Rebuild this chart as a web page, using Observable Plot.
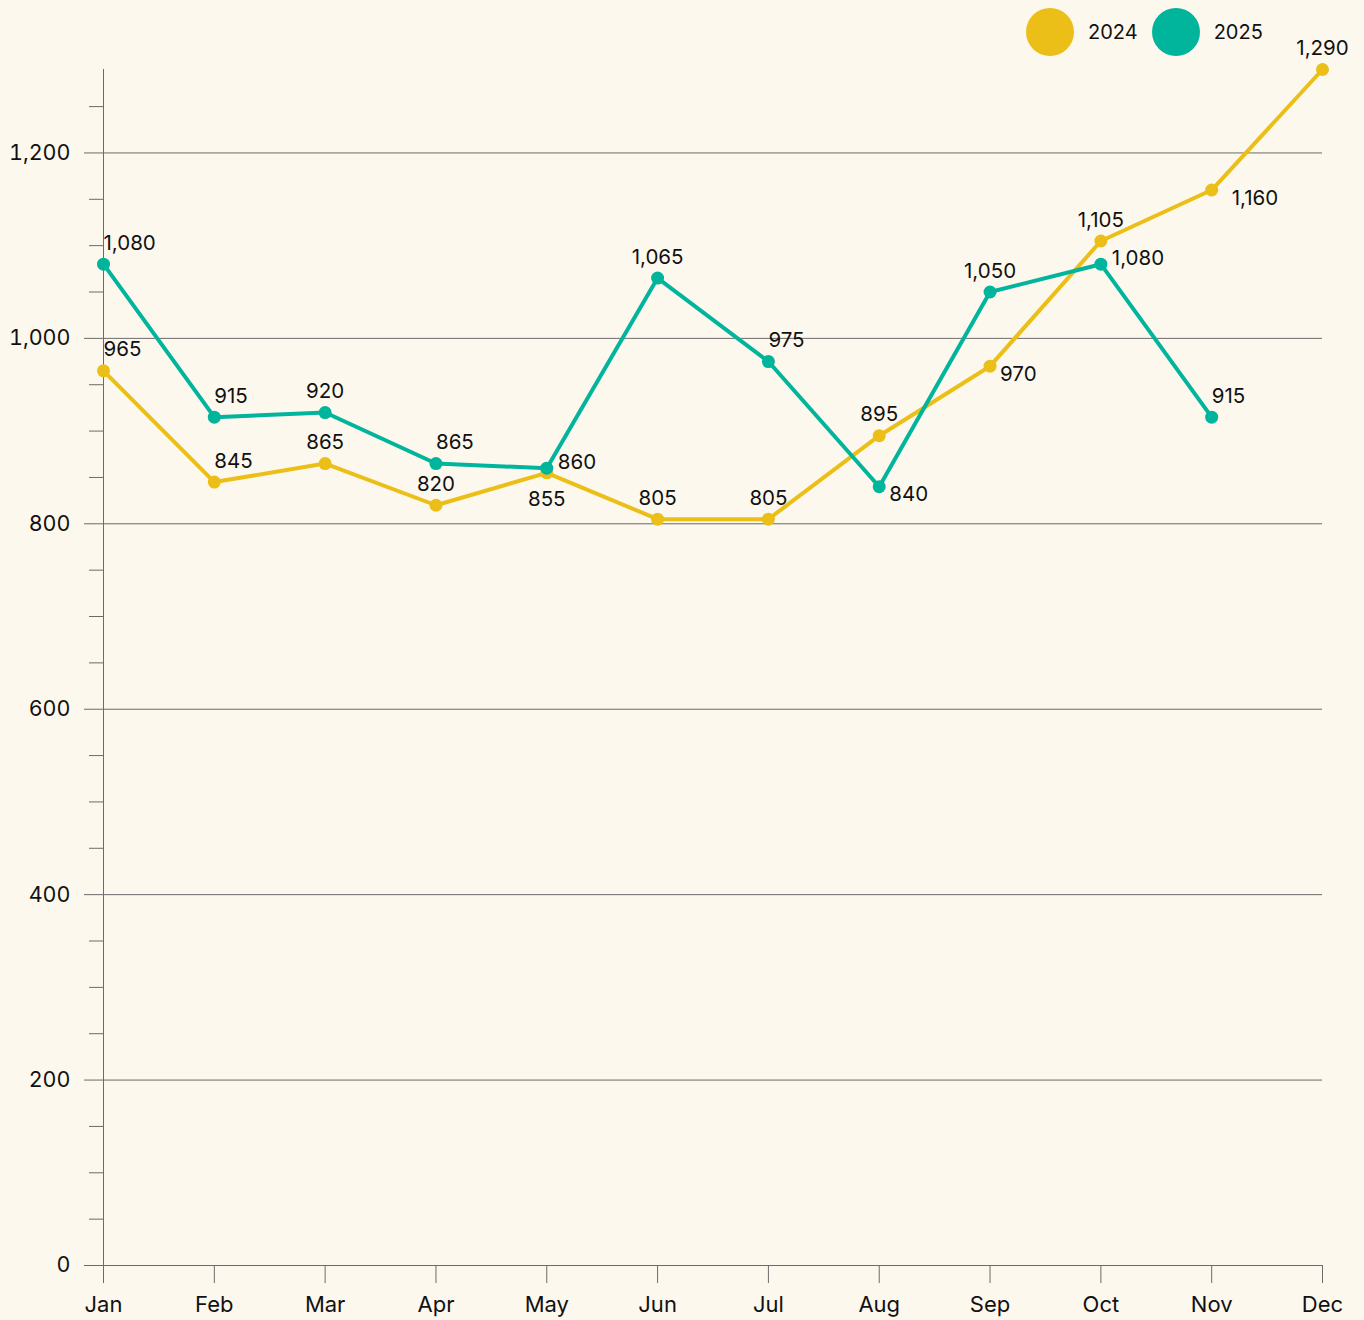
<!DOCTYPE html>
<html>
<head>
<meta charset="utf-8">
<script src="https://cdn.jsdelivr.net/npm/d3@7"></script>
<script src="https://cdn.jsdelivr.net/npm/@observablehq/plot@0.6"></script>
<style>
  html, body { margin: 0; padding: 0; background: #fdf8ed; }
  #wrap { position: relative; width: 1364px; height: 1320px; font-family: Inter, "Noto Sans", sans-serif; }
  #legend { position: absolute; top: 8px; left: 1026px; display: flex; align-items: center; gap: 0; font-size: 20px; color: #111; }
  .item { display: flex; align-items: center; margin-right: 14px; }
  .sw { width: 48px; height: 48px; border-radius: 50%; margin-right: 14px; }
  #chart { position: absolute; top: 0; left: 0; }
</style>
</head>
<body>
<div id="wrap">
  <div id="chart"></div>
  <div id="legend"></div>
</div>
<script>
const months = ["Jan","Feb","Mar","Apr","May","Jun","Jul","Aug","Sep","Oct","Nov","Dec"];
const seriesNames = ["2024", "2025"];
const values2024 = [965, 845, 865, 820, 855, 805, 805, 895, 970, 1105, 1160, 1290];
const values2025 = [1080, 915, 920, 865, 860, 1065, 975, 840, 1050, 1080, 915];
const labelPos2024 = ["ne","ne","n","n","s","n","n","n","se","n","sef","n"];
const labelPos2025 = ["ne","ne","n","ne","e","n","ne","se","n","e","ne"];
const colors = ["#ebbf17", "#00b59c"];
const majorTicks = [0, 200, 400, 600, 800, 1000, 1200];
const minorTicks = d3.range(0, 1300, 50).filter(v => v % 200 !== 0);
const fmt = d3.format(",");

const rows = [];
values2024.forEach((v, i) => rows.push({month: months[i], value: v, series: seriesNames[0], pos: labelPos2024[i]}));
values2025.forEach((v, i) => rows.push({month: months[i], value: v, series: seriesNames[1], pos: labelPos2025[i]}));

const labelStyles = {
  n:   {textAnchor: "middle", dx: 0,  dy: -21},
  ne:  {textAnchor: "start",  dx: 0,  dy: -21},
  s:   {textAnchor: "middle", dx: 0,  dy: 27},
  se:  {textAnchor: "start",  dx: 10, dy: 8},
  sef: {textAnchor: "start",  dx: 20, dy: 8},
  e:   {textAnchor: "start",  dx: 11, dy: -6}
};

const labelMarks = Object.entries(labelStyles).map(([k, s]) =>
  Plot.text(rows.filter(d => d.pos === k), {
    x: "month", y: "value", text: d => fmt(d.value),
    textAnchor: s.textAnchor, dx: s.dx, dy: s.dy,
    fontSize: 20.5, fill: "#111"
  })
);

const chart = Plot.plot({
  width: 1364,
  height: 1320,
  marginLeft: 103,
  marginRight: 42,
  marginTop: 69,
  marginBottom: 55,
  style: {background: "transparent", fontFamily: "Inter, 'Noto Sans', sans-serif", color: "#111"},
  x: {type: "point", domain: months, padding: 0, round: false, label: null, axis: null},
  y: {domain: [0, 1290], label: null, axis: null},
  color: {domain: seriesNames, range: colors},
  marks: [
    Plot.gridY(majorTicks, {stroke: "#6b6b6b", strokeOpacity: 1, strokeWidth: 1}),
    Plot.axisY(majorTicks, {tickSize: 19, tickPadding: 14, fontSize: 21.5, tickFormat: fmt, stroke: "#6b6b6b", label: null}),
    Plot.axisY(minorTicks, {tickSize: 14, tickFormat: () => "", stroke: "#6b6b6b", label: null}),
    Plot.ruleX([months[0]], {y1: 0, y2: 1290, stroke: "#6b6b6b"}),
    Plot.axisX(months, {tickSize: 18, tickPadding: 13, fontSize: 22, stroke: "#6b6b6b", label: null}),
    Plot.lineY(rows, {x: "month", y: "value", stroke: "series", strokeWidth: 4}),
    Plot.dot(rows, {x: "month", y: "value", fill: "series", r: 6.5}),
    ...labelMarks
  ]
});
document.getElementById("chart").appendChild(chart);

const legend = document.getElementById("legend");
seriesNames.forEach((name, i) => {
  const item = document.createElement("div");
  item.className = "item";
  const sw = document.createElement("div");
  sw.className = "sw";
  sw.style.background = colors[i];
  const t = document.createElement("span");
  t.textContent = name;
  item.appendChild(sw);
  item.appendChild(t);
  legend.appendChild(item);
});
</script>
</body>
</html>
